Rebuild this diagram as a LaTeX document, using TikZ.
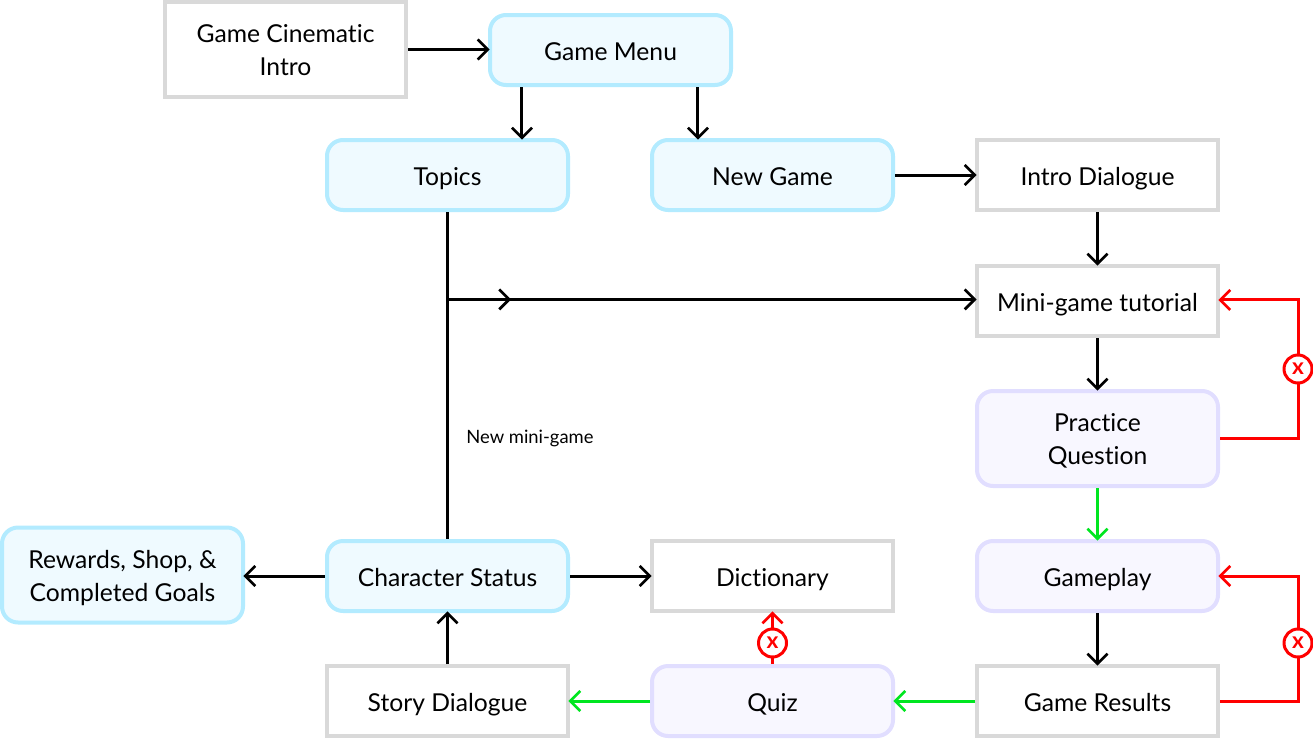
\documentclass[tikz,border=0pt]{standalone}
\usepackage{fontspec}
\setmainfont{Lato}[Ligatures=CommonOff]
\usepackage{xcolor}
\usetikzlibrary{arrows.meta,positioning,calc}
\definecolor{flowgrey}{HTML}{D9D9D9}
\definecolor{flowblue}{HTML}{B3EBFF}
\definecolor{flowbluebg}{HTML}{EFFAFF}
\definecolor{flowviolet}{HTML}{E1DEFF}
\definecolor{flowvioletbg}{HTML}{F8F7FF}
\definecolor{flowgreen}{HTML}{00E620}
\definecolor{flowred}{HTML}{FF0000}
\begin{document}
\begin{tikzpicture}[x=0.75pt, y=-0.75pt, font=\fontsize{18.5}{25}\selectfont, >={Straight Barb[length=7.5pt, width=15pt, line width=2pt]}, shorten >=-1.2pt,
  box/.style={draw=flowgrey, fill=white, line width=3pt, minimum width=180.75pt, minimum height=52.5pt, inner sep=0pt, align=center, text height=16pt, text depth=1pt},
  tall/.style={minimum height=71.25pt, text height=39.5pt, text depth=0pt},
  menu/.style={box, draw=flowblue, fill=flowbluebg, rounded corners=12pt},
  quest/.style={box, draw=flowviolet, fill=flowvioletbg, rounded corners=12pt},
  link/.style={black, line width=2.25pt},
  pass/.style={flowgreen, line width=2.25pt},
  fail/.style={flowred, line width=2.25pt},
  cross/.style={circle, draw=flowred, fill=white, line width=2.25pt, minimum size=21pt, inner sep=0pt, text=flowred, font=\fontsize{17}{17}\selectfont\bfseries}]
  \useasboundingbox (0,0) rectangle (1313,739);
  % ---- grey boxes ----
  \node[box, tall] (cine) at (285.5,49.5) {Game Cinematic\\Intro};
  \foreach \n/\x/\y/\t in {intro/1097.5/175/Intro Dialogue, tut/1097.5/301/Mini-game tutorial, dict/772.5/576/Dictionary, res/1097.5/701/Game Results, story/447.5/701/Story Dialogue} { \node[box] (\n) at (\x,\y) {\t}; }
  % ---- blue boxes ----
  \foreach \n/\x/\y/\t in {gmenu/610.5/50/Game Menu, topics/447.5/175/Topics, new/772.5/175/New Game, stat/447.5/576/Character Status} { \node[menu] (\n) at (\x,\y) {\t}; }
  \node[menu, tall] (shop) at (122.5,575) {Rewards, Shop, \&\\Completed Goals};
  % ---- violet boxes ----
  \node[quest, tall] (prac) at (1097.5,438.5) {Practice\\Question};
  \foreach \n/\x/\y/\t in {play/1097.5/576/Gameplay, quiz/772.5/701/Quiz} { \node[quest] (\n) at (\x,\y) {\t}; }
  % ---- black links ----
  \draw[link, ->] (cine.east) -- (cine.east -| gmenu.west);
  \coordinate (ma) at ([xshift=-66.4pt]gmenu.south);
  \coordinate (mb) at ([xshift=65.6pt]gmenu.south);
  \draw[link, ->] (ma) -- (ma |- topics.north);
  \draw[link, ->] (mb) -- (mb |- new.north);
  \draw[link, ->] (new) -- (intro);
  \draw[link, ->] (intro) -- (tut);
  \draw[link, ->] (tut) -- (prac);
  \draw[link, ->] (play) -- (res);
  \draw[link, ->] (story) -- (stat);
  \draw[link, ->] (stat.west) -- (stat.west -| shop.east);
  \draw[link, ->] (stat) -- (dict);
  \draw[link, line width=2.6pt, shorten >=0pt] (topics) -- (stat) node[pos=0.693, right=9.5pt, black, font=\fontsize{13.8}{14}\selectfont] (lbl) {New mini-game};
  \coordinate (jn) at ([yshift=1.2pt]topics.south |- tut.west);
  \coordinate[right=46.5pt of jn] (tip);
  \draw[link, ->] (jn) -- (tip);
  \draw[link, ->] (tip) -- (tip -| tut.west);
  % ---- green links ----
  \draw[pass, ->] (prac) -- (play);
  \draw[pass, ->] (res) -- (quiz);
  \draw[pass, ->] (quiz) -- (story);
  % ---- red links ----
  \node[cross] (xa) at (1298,369) {x};
  \node[cross] (xb) at (1298,643) {x};
  \node[cross] (xc) at (772.5,643) {x};
  \draw[fail] (prac.east) -| (xa);
  \draw[fail, ->] (xa) |- ([yshift=0.8pt]tut.east);
  \draw[fail] (res.east) -| (xb);
  \draw[fail, ->] (xb) |- (play.east);
  \draw[fail] (quiz) -- (xc);
  \draw[fail, ->] (xc) -- (dict);
\end{tikzpicture}
\end{document}
